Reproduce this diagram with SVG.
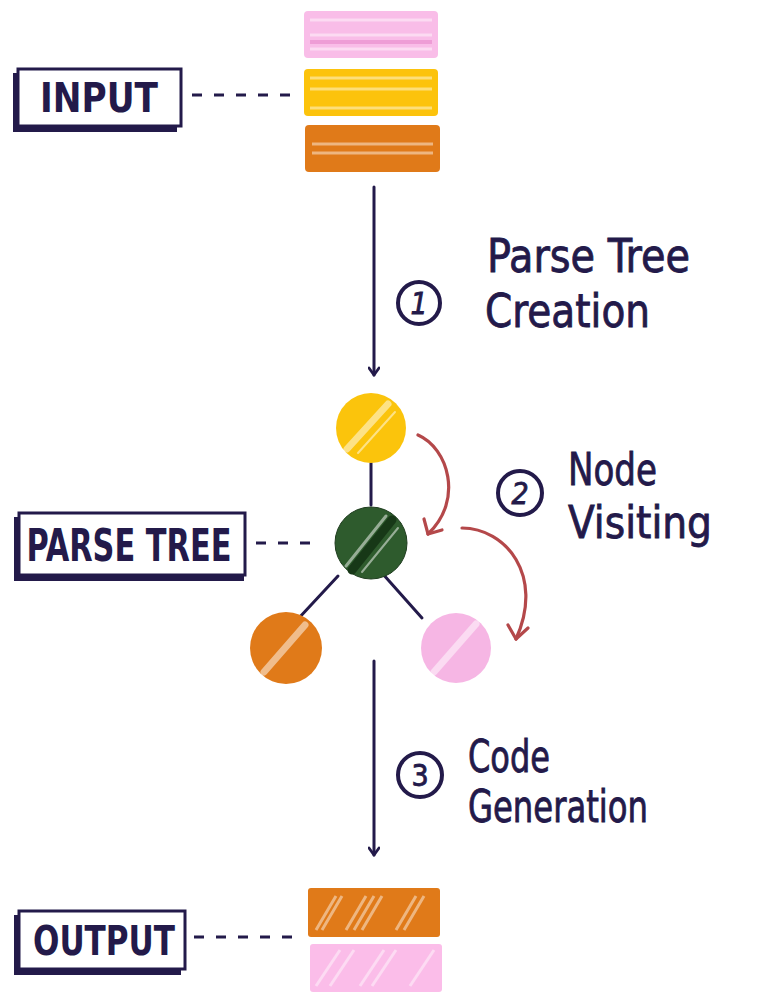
<svg xmlns="http://www.w3.org/2000/svg" width="767" height="992" viewBox="0 0 767 992">
<style>
.ink{fill:none;stroke:#231a4a;stroke-width:3;stroke-linecap:round}
.dash{fill:none;stroke:#231a4a;stroke-width:3;stroke-dasharray:10 12}
.red{fill:none;stroke:#b4484a;stroke-width:3.2;stroke-linecap:round;stroke-linejoin:round}
.lbl{font-family:"Liberation Sans Narrow","DejaVu Sans Condensed","Liberation Sans",sans-serif;font-weight:bold;fill:#231a4a}
.hand{font-family:"Liberation Sans Narrow","DejaVu Sans Condensed","Liberation Sans",sans-serif;fill:#231a4a;stroke:#231a4a;stroke-width:0.8}
.shadow{fill:#231a4a}
.box{fill:#fff;stroke:#231a4a;stroke-width:3}
.hl{stroke:#fff;stroke-opacity:0.45;stroke-width:3;fill:none}
.gloss{stroke:#fff;stroke-opacity:0.5;fill:none;stroke-linecap:round}
.num{fill:none;stroke:#231a4a;stroke-width:4}
.numt{font-family:"Liberation Sans Narrow","DejaVu Sans Condensed","Liberation Sans",sans-serif;fill:#231a4a;font-size:30px;text-anchor:middle;stroke:#231a4a;stroke-width:0.8}
</style>
<defs>
<marker id="ah" viewBox="0 0 12 12" refX="10" refY="6" markerWidth="12" markerHeight="12" markerUnits="userSpaceOnUse" orient="auto">
<path d="M3,1 L10,6 L3,11" fill="none" stroke="#231a4a" stroke-width="2.8" stroke-linecap="round" stroke-linejoin="round"/>
</marker>
</defs>
<rect width="767" height="992" fill="#fff"/>

<g id="input-label">
<rect class="shadow" x="13" y="73" width="164" height="59"/>
<rect class="box" x="18" y="69" width="163" height="57"/>
<text class="lbl" x="99" y="112" font-size="40" text-anchor="middle" textLength="118" lengthAdjust="spacingAndGlyphs">INPUT</text>
</g>

<g id="input-data">
<rect x="304" y="11" width="134" height="47" rx="4" fill="#f9bde8"/>
<line class="hl" x1="310" y1="20" x2="432" y2="20"/>
<line class="hl" x1="310" y1="35" x2="432" y2="35"/>
<line x1="310" y1="42" x2="432" y2="42" stroke="#ee9dd6" stroke-width="4"/>
<line class="hl" x1="310" y1="49" x2="432" y2="49"/>
<rect x="304" y="69" width="134" height="47" rx="4" fill="#fcc30c"/>
<line class="hl" x1="310" y1="78" x2="432" y2="78"/>
<line class="hl" x1="310" y1="89" x2="432" y2="89"/>
<line class="hl" x1="310" y1="108" x2="432" y2="108"/>
<rect x="305" y="125" width="135" height="47" rx="4" fill="#e07a19"/>
<line class="hl" x1="312" y1="144" x2="433" y2="144"/>
<line class="hl" x1="312" y1="153" x2="433" y2="153"/>
</g>

<g id="step1">
<circle class="num" cx="419" cy="303" r="21"/>
<text class="numt" x="419" y="314" font-style="italic">1</text>
<text class="hand" x="487" y="272" font-size="46" textLength="203" lengthAdjust="spacingAndGlyphs">Parse Tree</text>
<text class="hand" x="485" y="327" font-size="46" textLength="165" lengthAdjust="spacingAndGlyphs">Creation</text>
</g>

<g id="parse-tree-label">
<rect class="shadow" x="14" y="517" width="230" height="64"/>
<rect class="box" x="19" y="513" width="226" height="62"/>
<text class="lbl" x="129" y="561" font-size="44" text-anchor="middle" textLength="205" lengthAdjust="spacingAndGlyphs">PARSE TREE</text>
</g>

<g id="tree-edges">
<line class="ink" x1="371" y1="463" x2="371" y2="505"/>
<line class="ink" x1="338" y1="576" x2="298" y2="619"/>
<line class="ink" x1="382" y1="573" x2="422" y2="618"/>
</g>

<g id="node-root">
<circle cx="371" cy="428" r="35" fill="#fbc40c"/>
<line class="gloss" x1="347" y1="449" x2="388" y2="404" stroke-width="7"/>
<line class="gloss" x1="358" y1="453" x2="395" y2="412" stroke-width="2"/>
</g>
<g id="node-mid">
<circle cx="371" cy="543" r="36" fill="#2e5b2d" stroke="#1f3d1f" stroke-width="1"/>
<line x1="352" y1="570" x2="392" y2="520" stroke="#173817" stroke-width="9" stroke-linecap="round"/>
<line class="gloss" x1="346" y1="566" x2="386" y2="516" stroke-width="3"/>
<line class="gloss" x1="362" y1="572" x2="398" y2="528" stroke-width="2"/>
</g>
<g id="node-left">
<circle cx="286" cy="648" r="36" fill="#e07a19"/>
<line class="gloss" x1="264" y1="672" x2="305" y2="625" stroke-width="7"/>
</g>
<g id="node-right">
<circle cx="456" cy="648" r="35" fill="#f6b6e4"/>
<line class="gloss" x1="434" y1="672" x2="476" y2="624" stroke-width="7"/>
</g>

<g id="step2">
<circle class="num" cx="520" cy="493" r="22"/>
<text class="numt" x="520" y="504" font-style="italic">2</text>
<text class="hand" x="568" y="485" font-size="44" textLength="89" lengthAdjust="spacingAndGlyphs">Node</text>
<text class="hand" x="568" y="538" font-size="44" textLength="144" lengthAdjust="spacingAndGlyphs">Visiting</text>
</g>

<g id="step3">
<circle class="num" cx="420" cy="775" r="22"/>
<text class="numt" x="420" y="786">3</text>
<text class="hand" x="468" y="772" font-size="44" textLength="82" lengthAdjust="spacingAndGlyphs">Code</text>
<text class="hand" x="468" y="822" font-size="44" textLength="180" lengthAdjust="spacingAndGlyphs">Generation</text>
</g>

<g id="output-label">
<rect class="shadow" x="14" y="915" width="167" height="60"/>
<rect class="box" x="19" y="911" width="166" height="58"/>
<text class="lbl" x="104" y="955" font-size="40" text-anchor="middle" textLength="142" lengthAdjust="spacingAndGlyphs">OUTPUT</text>
</g>

<g id="output-data">
<rect x="308" y="888" width="132" height="49" rx="3" fill="#e07a19"/>
<g class="hl" stroke-width="1.5">
<path d="M316,930 L336,896 M322,930 L342,896 M346,930 L366,896 M354,930 L374,896 M362,930 L382,896 M396,930 L416,896 M404,930 L424,896"/>
</g>
<rect x="310" y="944" width="132" height="48" rx="3" fill="#fbbde9"/>
<g class="hl" stroke-width="2">
<path d="M316,986 L340,950 M330,986 L354,950 M360,986 L384,950 M372,986 L396,950 M410,986 L434,950"/>
</g>
</g>

<g id="connectors">
<line class="dash" x1="192" y1="95" x2="294" y2="95"/>
<line class="dash" x1="256" y1="543" x2="322" y2="543"/>
<line class="dash" x1="194" y1="937" x2="298" y2="937"/>
<line class="ink" x1="374" y1="187" x2="374" y2="375" marker-end="url(#ah)"/>
<line class="ink" x1="374" y1="661" x2="374" y2="855" marker-end="url(#ah)"/>
<path class="red" d="M418,435 C448,448 464,500 428,534"/>
<path class="red" d="M424,519 L428,534 L442,530"/>
<path class="red" d="M462,528 C505,528 545,575 516,639"/>
<path class="red" d="M508,625 L516,639 L528,628"/>
</g>
</svg>
